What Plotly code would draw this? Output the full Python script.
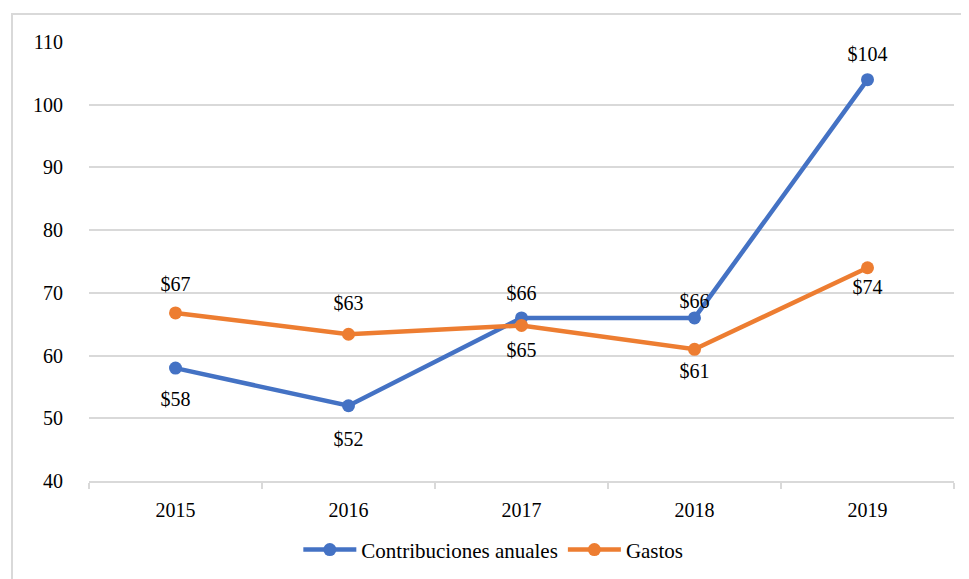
import plotly.graph_objects as go

years = ["2015", "2016", "2017", "2018", "2019"]
contribuciones = [58, 52, 66, 66, 104]
gastos = [66.8, 63.4, 64.8, 61.0, 74.0]
y_ticks = [40, 50, 60, 70, 80, 90, 100, 110]

# label placement (style only)
blue_label_pos = ["bottom center", "bottom center", "top center", "top center", "top center"]
orange_label_pos = ["top center", "top center", "bottom center", "bottom center", "bottom center"]
# invisible spacer sizes controlling label distance from the point
blue_label_gap = [35, 39, 19, 7, 21]
orange_label_gap = [25, 29, 25, 21, 17]

blue = "#4472C4"
orange = "#ED7D31"
font_family = "Liberation Serif"
label_font = dict(family=font_family, size=20, color="#000000")

fig = go.Figure()
fig.add_trace(go.Scatter(
    x=years, y=contribuciones, name="Contribuciones anuales",
    mode="lines+markers",
    line=dict(color=blue, width=4.5),
    marker=dict(color=blue, size=13),
))
fig.add_trace(go.Scatter(
    x=years, y=gastos, name="Gastos",
    mode="lines+markers",
    line=dict(color=orange, width=4.5),
    marker=dict(color=orange, size=13),
))
for vals, pos, gap in [(contribuciones, blue_label_pos, blue_label_gap),
                       (gastos, orange_label_pos, orange_label_gap)]:
    fig.add_trace(go.Scatter(
        x=years, y=vals, mode="markers+text", showlegend=False, hoverinfo="skip",
        marker=dict(size=gap, color="rgba(0,0,0,0)", line=dict(width=0)),
        texttemplate="$%{y:.0f}", textposition=pos, textfont=label_font,
    ))

fig.update_layout(
    width=969, height=579,
    margin=dict(l=81, r=23, t=34, b=106),
    paper_bgcolor="white", plot_bgcolor="white",
    font=dict(family=font_family, size=20, color="#000000"),
    showlegend=True,
    legend=dict(orientation="h", x=0.242, xanchor="left", y=-0.157, yanchor="middle",
                font=dict(family=font_family, size=21), itemwidth=53, tracegroupgap=0),
    shapes=[dict(type="rect", xref="paper", yref="paper",
                 x0=-0.089, x1=1.03, y0=-0.25, y1=1.0638,
                 line=dict(color="#d9d9d9", width=2), fillcolor="rgba(0,0,0,0)", layer="below")],
)
fig.update_xaxes(
    type="category", range=[-0.5, 4.5],
    showgrid=False, showline=True, linecolor="#d9d9d9", linewidth=2,
    ticks="outside", tickson="boundaries", ticklen=6, tickcolor="#d9d9d9", tickwidth=2,
    ticklabelstandoff=10,
)
fig.update_yaxes(
    range=[40, 110], tickvals=y_ticks,
    showgrid=True, gridcolor="#d9d9d9", gridwidth=2,
    zeroline=False, showline=False, ticks="", ticklabelstandoff=25,
)

fig.write_html("out.html")
